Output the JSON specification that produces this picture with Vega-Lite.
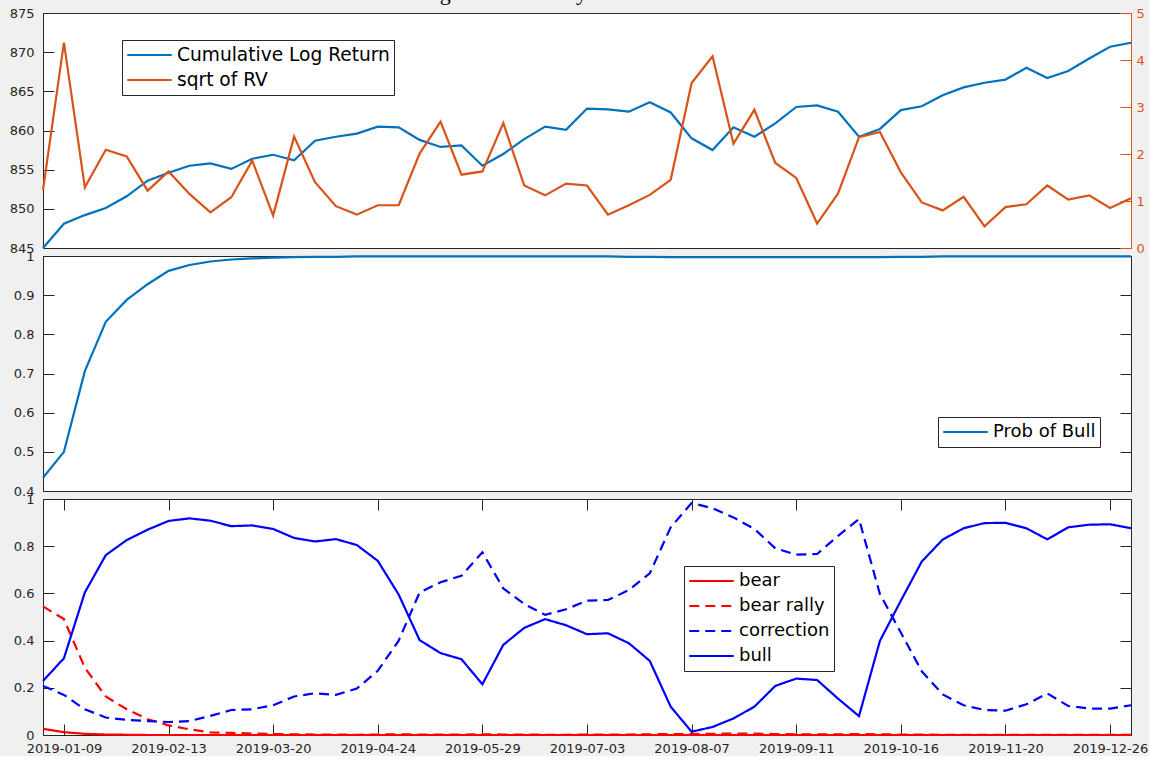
{
  "$schema": "https://vega.github.io/schema/vega-lite/v6.json",
  "background": "#f0f0f0",
  "padding": {"left": 8, "top": -19, "right": 0, "bottom": 0},
  "title": {"text": "Regime Probability Estimates for 2019", "font": "Liberation Serif", "fontSize": 22, "fontWeight": "normal", "color": "#000000", "anchor": "middle", "frame": "group", "offset": 2},
  "spacing": 8,
  "bounds": "flush",
  "data": {"values": [
    {"date": "2019-01-02", "clr": 845.0, "rv": 1.23, "pbull": 0.434, "bear": 0.026, "bear rally": 0.545, "correction": 0.208, "bull": 0.229},
    {"date": "2019-01-09", "clr": 848.1, "rv": 4.37, "pbull": 0.500, "bear": 0.012, "bear rally": 0.491, "correction": 0.170, "bull": 0.325},
    {"date": "2019-01-16", "clr": 849.2, "rv": 1.29, "pbull": 0.706, "bear": 0.005, "bear rally": 0.285, "correction": 0.109, "bull": 0.604},
    {"date": "2019-01-23", "clr": 850.1, "rv": 2.09, "pbull": 0.832, "bear": 0.002, "bear rally": 0.163, "correction": 0.074, "bull": 0.762},
    {"date": "2019-01-30", "clr": 851.6, "rv": 1.95, "pbull": 0.888, "bear": 0.001, "bear rally": 0.109, "correction": 0.064, "bull": 0.826},
    {"date": "2019-02-06", "clr": 853.6, "rv": 1.22, "pbull": 0.928, "bear": 0.0, "bear rally": 0.067, "correction": 0.059, "bull": 0.870},
    {"date": "2019-02-13", "clr": 854.6, "rv": 1.63, "pbull": 0.962, "bear": 0.0, "bear rally": 0.041, "correction": 0.055, "bull": 0.907},
    {"date": "2019-02-20", "clr": 855.5, "rv": 1.15, "pbull": 0.977, "bear": 0.0, "bear rally": 0.024, "correction": 0.059, "bull": 0.918},
    {"date": "2019-02-27", "clr": 855.8, "rv": 0.76, "pbull": 0.986, "bear": 0.0, "bear rally": 0.011, "correction": 0.081, "bull": 0.908},
    {"date": "2019-03-06", "clr": 855.1, "rv": 1.08, "pbull": 0.991, "bear": 0.0, "bear rally": 0.009, "correction": 0.106, "bull": 0.885},
    {"date": "2019-03-13", "clr": 856.4, "rv": 1.86, "pbull": 0.994, "bear": 0.0, "bear rally": 0.006, "correction": 0.109, "bull": 0.888},
    {"date": "2019-03-20", "clr": 856.9, "rv": 0.69, "pbull": 0.996, "bear": 0.0, "bear rally": 0.004, "correction": 0.126, "bull": 0.873},
    {"date": "2019-03-27", "clr": 856.2, "rv": 2.37, "pbull": 0.997, "bear": 0.0, "bear rally": 0.003, "correction": 0.163, "bull": 0.835},
    {"date": "2019-04-03", "clr": 858.7, "rv": 1.40, "pbull": 0.998, "bear": 0.0, "bear rally": 0.002, "correction": 0.177, "bull": 0.820},
    {"date": "2019-04-10", "clr": 859.2, "rv": 0.89, "pbull": 0.998, "bear": 0.0, "bear rally": 0.002, "correction": 0.170, "bull": 0.830},
    {"date": "2019-04-17", "clr": 859.6, "rv": 0.71, "pbull": 0.999, "bear": 0.0, "bear rally": 0.001, "correction": 0.197, "bull": 0.805},
    {"date": "2019-04-24", "clr": 860.5, "rv": 0.91, "pbull": 0.999, "bear": 0.0, "bear rally": 0.002, "correction": 0.272, "bull": 0.738},
    {"date": "2019-05-01", "clr": 860.4, "rv": 0.91, "pbull": 0.999, "bear": 0.0, "bear rally": 0.003, "correction": 0.400, "bull": 0.595},
    {"date": "2019-05-08", "clr": 858.8, "rv": 2.01, "pbull": 0.999, "bear": 0.0, "bear rally": 0.002, "correction": 0.604, "bull": 0.402},
    {"date": "2019-05-15", "clr": 857.9, "rv": 2.69, "pbull": 0.999, "bear": 0.0, "bear rally": 0.002, "correction": 0.647, "bull": 0.347},
    {"date": "2019-05-22", "clr": 858.1, "rv": 1.56, "pbull": 0.999, "bear": 0.0, "bear rally": 0.002, "correction": 0.675, "bull": 0.321},
    {"date": "2019-05-29", "clr": 855.5, "rv": 1.63, "pbull": 0.999, "bear": 0.0, "bear rally": 0.003, "correction": 0.774, "bull": 0.215},
    {"date": "2019-06-05", "clr": 857.0, "rv": 2.66, "pbull": 0.999, "bear": 0.0, "bear rally": 0.002, "correction": 0.621, "bull": 0.382},
    {"date": "2019-06-12", "clr": 858.9, "rv": 1.33, "pbull": 0.999, "bear": 0.0, "bear rally": 0.002, "correction": 0.555, "bull": 0.454},
    {"date": "2019-06-19", "clr": 860.5, "rv": 1.12, "pbull": 0.999, "bear": 0.0, "bear rally": 0.001, "correction": 0.509, "bull": 0.491},
    {"date": "2019-06-26", "clr": 860.1, "rv": 1.37, "pbull": 0.999, "bear": 0.0, "bear rally": 0.001, "correction": 0.533, "bull": 0.465},
    {"date": "2019-07-03", "clr": 862.8, "rv": 1.33, "pbull": 0.999, "bear": 0.0, "bear rally": 0.002, "correction": 0.569, "bull": 0.427},
    {"date": "2019-07-10", "clr": 862.7, "rv": 0.71, "pbull": 0.999, "bear": 0.0, "bear rally": 0.002, "correction": 0.572, "bull": 0.431},
    {"date": "2019-07-17", "clr": 862.4, "rv": 0.91, "pbull": 0.998, "bear": 0.0, "bear rally": 0.002, "correction": 0.614, "bull": 0.389},
    {"date": "2019-07-24", "clr": 863.6, "rv": 1.13, "pbull": 0.998, "bear": 0.0, "bear rally": 0.003, "correction": 0.685, "bull": 0.314},
    {"date": "2019-07-31", "clr": 862.3, "rv": 1.45, "pbull": 0.997, "bear": 0.0, "bear rally": 0.004, "correction": 0.880, "bull": 0.120},
    {"date": "2019-08-07", "clr": 859.0, "rv": 3.51, "pbull": 0.997, "bear": 0.0, "bear rally": 0.004, "correction": 0.983, "bull": 0.014},
    {"date": "2019-08-14", "clr": 857.5, "rv": 4.08, "pbull": 0.997, "bear": 0.0, "bear rally": 0.005, "correction": 0.961, "bull": 0.034},
    {"date": "2019-08-21", "clr": 860.4, "rv": 2.22, "pbull": 0.997, "bear": 0.0, "bear rally": 0.006, "correction": 0.922, "bull": 0.070},
    {"date": "2019-08-28", "clr": 859.2, "rv": 2.94, "pbull": 0.997, "bear": 0.0, "bear rally": 0.006, "correction": 0.873, "bull": 0.120},
    {"date": "2019-09-04", "clr": 860.9, "rv": 1.81, "pbull": 0.997, "bear": 0.0, "bear rally": 0.004, "correction": 0.791, "bull": 0.208},
    {"date": "2019-09-11", "clr": 863.0, "rv": 1.49, "pbull": 0.997, "bear": 0.0, "bear rally": 0.003, "correction": 0.764, "bull": 0.239},
    {"date": "2019-09-18", "clr": 863.2, "rv": 0.52, "pbull": 0.997, "bear": 0.0, "bear rally": 0.003, "correction": 0.767, "bull": 0.233},
    {"date": "2019-09-25", "clr": 862.4, "rv": 1.16, "pbull": 0.997, "bear": 0.0, "bear rally": 0.003, "correction": 0.844, "bull": 0.154},
    {"date": "2019-10-02", "clr": 859.2, "rv": 2.36, "pbull": 0.997, "bear": 0.0, "bear rally": 0.004, "correction": 0.915, "bull": 0.080},
    {"date": "2019-10-09", "clr": 860.2, "rv": 2.47, "pbull": 0.997, "bear": 0.0, "bear rally": 0.003, "correction": 0.597, "bull": 0.399},
    {"date": "2019-10-16", "clr": 862.6, "rv": 1.61, "pbull": 0.998, "bear": 0.0, "bear rally": 0.002, "correction": 0.434, "bull": 0.569},
    {"date": "2019-10-23", "clr": 863.1, "rv": 0.97, "pbull": 0.998, "bear": 0.0, "bear rally": 0.002, "correction": 0.270, "bull": 0.735},
    {"date": "2019-10-30", "clr": 864.5, "rv": 0.80, "pbull": 0.999, "bear": 0.0, "bear rally": 0.001, "correction": 0.172, "bull": 0.828},
    {"date": "2019-11-06", "clr": 865.5, "rv": 1.09, "pbull": 0.999, "bear": 0.0, "bear rally": 0.001, "correction": 0.126, "bull": 0.876},
    {"date": "2019-11-13", "clr": 866.1, "rv": 0.46, "pbull": 0.999, "bear": 0.0, "bear rally": 0.001, "correction": 0.106, "bull": 0.898},
    {"date": "2019-11-20", "clr": 866.5, "rv": 0.87, "pbull": 0.999, "bear": 0.0, "bear rally": 0.001, "correction": 0.103, "bull": 0.899},
    {"date": "2019-11-27", "clr": 868.0, "rv": 0.93, "pbull": 0.999, "bear": 0.0, "bear rally": 0.001, "correction": 0.130, "bull": 0.876},
    {"date": "2019-12-04", "clr": 866.7, "rv": 1.33, "pbull": 0.999, "bear": 0.0, "bear rally": 0.001, "correction": 0.176, "bull": 0.829},
    {"date": "2019-12-11", "clr": 867.6, "rv": 1.03, "pbull": 0.999, "bear": 0.0, "bear rally": 0.001, "correction": 0.123, "bull": 0.880},
    {"date": "2019-12-18", "clr": 869.2, "rv": 1.12, "pbull": 0.999, "bear": 0.0, "bear rally": 0.001, "correction": 0.112, "bull": 0.891},
    {"date": "2019-12-26", "clr": 870.7, "rv": 0.85, "pbull": 0.999, "bear": 0.0, "bear rally": 0.001, "correction": 0.112, "bull": 0.893},
    {"date": "2019-12-31", "clr": 871.2, "rv": 1.06, "pbull": 0.999, "bear": 0.0, "bear rally": 0.001, "correction": 0.126, "bull": 0.876}
  ]},
  "config": {
    "view": {"stroke": "#262626", "strokeWidth": 1, "fill": "#ffffff"},
    "axis": {"labelFont": "DejaVu Sans", "labelFontSize": 13, "labelColor": "#262626", "tickColor": "#262626", "domain": false, "grid": false, "title": null, "offset": -11, "tickSize": 11, "labelPadding": 9},
    "legend": {"strokeColor": "#262626", "fillColor": "#ffffff", "padding": 4, "cornerRadius": 0, "symbolType": "stroke", "symbolSize": 1980, "symbolStrokeWidth": 2.2, "clipHeight": 22, "labelFont": "DejaVu Sans", "labelFontSize": 18, "labelColor": "#000000", "labelLimit": 400, "labelOffset": 4, "rowPadding": 3},
    "line": {"strokeWidth": 2.2}
  },
  "resolve": {"scale": {"color": "independent", "strokeDash": "independent"}},
  "vconcat": [
    {
      "width": 1088,
      "height": 235,
      "layer": [
        {
          "mark": {"type": "line", "strokeWidth": 2.2},
          "encoding": {
            "x": {"field": "date", "type": "ordinal", "scale": {"type": "point", "padding": 0}, "axis": null},
            "y": {"field": "clr", "type": "quantitative", "scale": {"domain": [845, 875], "nice": false, "zero": false}, "axis": {"orient": "left", "values": [845, 850, 855, 860, 865, 870, 875]}},
            "color": {"datum": "Cumulative Log Return", "type": "nominal", "scale": {"domain": ["Cumulative Log Return", "sqrt of RV"], "range": ["#0072BD", "#D95319"]}, "legend": {"title": null, "orient": "none", "legendX": 79, "legendY": 27, "labelFontSize": 18.6}}
          }
        },
        {
          "mark": {"type": "line", "strokeWidth": 2.2},
          "encoding": {
            "x": {"field": "date", "type": "ordinal", "scale": {"type": "point", "padding": 0}, "axis": null},
            "y": {"field": "rv", "type": "quantitative", "scale": {"domain": [0, 5], "nice": false}, "axis": {"orient": "right", "values": [0, 1, 2, 3, 4, 5], "offset": 0, "tickSize": -11, "labelPadding": 16, "domain": true, "domainColor": "#D95319", "tickColor": "#D95319", "labelColor": "#D95319"}},
            "color": {"datum": "sqrt of RV", "type": "nominal"}
          }
        }
      ],
      "resolve": {"scale": {"y": "independent"}}
    },
    {
      "width": 1088,
      "height": 235,
      "layer": [
        {
          "mark": {"type": "line", "strokeWidth": 2.2},
          "encoding": {
            "x": {"field": "date", "type": "ordinal", "scale": {"type": "point", "padding": 0}, "axis": null},
            "y": {"field": "pbull", "type": "quantitative", "scale": {"domain": [0.4, 1], "nice": false, "zero": false}, "axis": {"orient": "left", "values": [0.4, 0.5, 0.6, 0.7, 0.8, 0.9, 1], "format": "~g"}},
            "color": {"datum": "Prob of Bull", "type": "nominal", "scale": {"domain": ["Prob of Bull"], "range": ["#0072BD"]}, "legend": {"title": null, "orient": "none", "legendX": 895, "legendY": 161}}
          }
        },
        {
          "mark": {"type": "line", "strokeOpacity": 0},
          "encoding": {
            "x": {"field": "date", "type": "ordinal", "scale": {"type": "point", "padding": 0}, "axis": null},
            "y": {"field": "pbull", "type": "quantitative", "scale": {"domain": [0.4, 1], "nice": false, "zero": false}, "axis": {"orient": "right", "values": [0.4, 0.5, 0.6, 0.7, 0.8, 0.9, 1], "labels": false}}
          }
        }
      ],
      "resolve": {"axis": {"y": "independent"}}
    },
    {
      "width": 1088,
      "height": 236,
      "layer": [
        {
          "transform": [{"fold": ["bear", "bear rally", "correction", "bull"], "as": ["regime", "p"]}],
          "mark": {"type": "line", "strokeWidth": 2.2},
          "encoding": {
            "x": {"field": "date", "type": "ordinal", "scale": {"type": "point", "padding": 0}, "axis": {"orient": "bottom", "labelAngle": 0, "labelPadding": 7, "values": ["2019-01-09", "2019-02-13", "2019-03-20", "2019-04-24", "2019-05-29", "2019-07-03", "2019-08-07", "2019-09-11", "2019-10-16", "2019-11-20", "2019-12-26"]}},
            "y": {"field": "p", "type": "quantitative", "scale": {"domain": [0, 1], "nice": false}, "axis": {"orient": "left", "values": [0, 0.2, 0.4, 0.6, 0.8, 1], "format": "~g"}},
            "color": {"field": "regime", "type": "nominal", "scale": {"domain": ["bear", "bear rally", "correction", "bull"], "range": ["#FF0000", "#FF0000", "#0000FF", "#0000FF"]}, "legend": {"title": null, "orient": "none", "legendX": 641, "legendY": 67}},
            "strokeDash": {"field": "regime", "type": "nominal", "scale": {"domain": ["bear", "bear rally", "correction", "bull"], "range": [[1, 0], [10, 6], [10, 6], [1, 0]]}, "legend": {"title": null, "orient": "none", "legendX": 641, "legendY": 67}}
          }
        },
        {
          "mark": {"type": "line", "strokeOpacity": 0},
          "encoding": {
            "x": {"field": "date", "type": "ordinal", "scale": {"type": "point", "padding": 0}, "axis": {"orient": "top", "labels": false, "values": ["2019-01-09", "2019-02-13", "2019-03-20", "2019-04-24", "2019-05-29", "2019-07-03", "2019-08-07", "2019-09-11", "2019-10-16", "2019-11-20", "2019-12-26"]}},
            "y": {"field": "bull", "type": "quantitative", "scale": {"domain": [0, 1], "nice": false}, "axis": {"orient": "right", "labels": false, "values": [0, 0.2, 0.4, 0.6, 0.8, 1]}}
          }
        }
      ],
      "resolve": {"axis": {"x": "independent", "y": "independent"}}
    }
  ]
}
